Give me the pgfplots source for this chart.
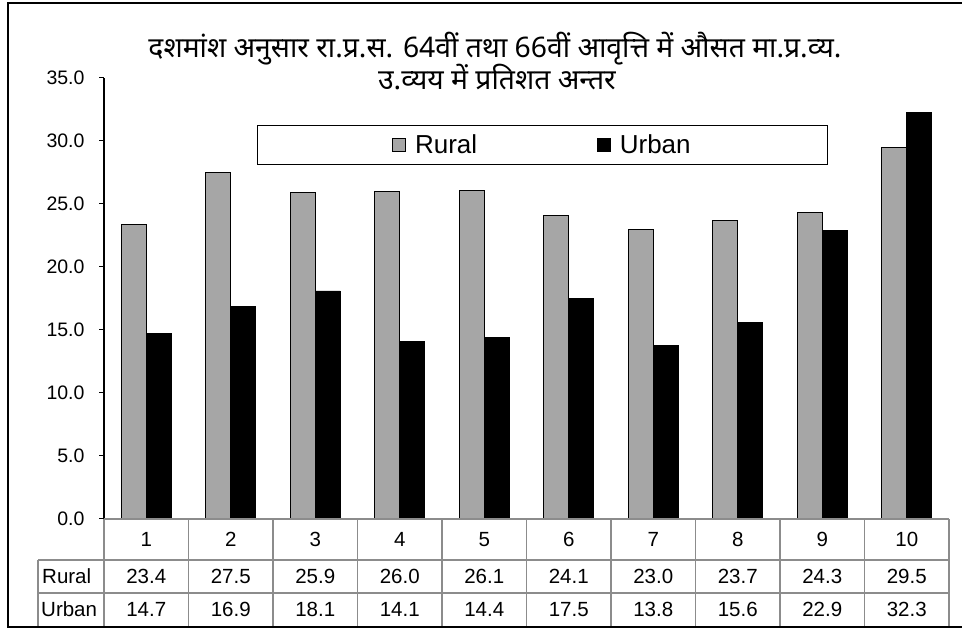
\documentclass[border=0pt]{standalone}
\usepackage{pgfplots}
\pgfplotsset{compat=1.18}
\usepackage{fontspec}
\setmainfont{Liberation Sans}
\newfontfamily\devfont[Script=Devanagari]{Noto Sans}
\definecolor{ruralgray}{HTML}{A6A6A6}
\definecolor{gridgray}{HTML}{8C8C8C}
\begin{document}
\begin{tikzpicture}[x=1bp,y=1bp]
\path[use as bounding box] (0,0) rectangle (962,630);
\begin{axis}[
  at={(104bp,111bp)}, anchor=south west,
  scale only axis, width=845bp, height=441bp,
  xmin=0.5, xmax=10.5, ymin=0, ymax=35,
  ybar, bar width=0.295,
  axis x line=none,
  axis y line*=left,
  y axis line style={line width=1.2bp, -},
  ytick={0,5,10,15,20,25,30,35},
  ytick pos=left,
  tick align=outside,
  major tick length=5bp,
  tick style={line width=1bp, black},
  yticklabel style={font=\fontsize{19.5bp}{22bp}\selectfont, xshift=-11bp, /pgf/number format/.cd, fixed, fixed zerofill, precision=1, assume math mode=true},
  clip=false,
  legend columns=2,
  legend style={at={(0.519,0.848)}, anchor=center, draw=black, line width=1.2bp,
    font=\fontsize{26bp}{29bp}\selectfont, inner xsep=135bp, inner ysep=7bp,
    /tikz/every even column/.append style={column sep=118bp}},
  legend image code/.code={\draw[#1, line width=0.6bp] (0bp,-6.5bp) rectangle (13bp,6.5bp); \path (20bp,0bp);},
]
\addplot[fill=ruralgray, draw=black, line width=0.7bp, bar shift=-0.1475] coordinates {
 (1,23.4) (2,27.5) (3,25.9) (4,26.0) (5,26.1) (6,24.1) (7,23.0) (8,23.7) (9,24.3) (10,29.5)};
\addplot[fill=black, draw=black, line width=0.7bp, bar shift=0.1475] coordinates {
 (1,14.7) (2,16.9) (3,18.1) (4,14.1) (5,14.4) (6,17.5) (7,13.8) (8,15.6) (9,22.9) (10,32.3)};
\legend{Rural,Urban}
\end{axis}
% data table
\begin{scope}[draw=gridgray, line width=1.3bp]
  \draw (104,111) -- (949,111);
  \draw (38,70) -- (949,70);
  \draw (38,37) -- (949,37);
  \draw (38,70) -- (38,3);
  \foreach \k in {0,...,10} { \draw ({104+84.5*\k},111) -- ({104+84.5*\k},3); }
\end{scope}
\begin{scope}[font=\fontsize{20.5bp}{23bp}\selectfont, every node/.style={anchor=base, inner sep=0pt}]
  \foreach \k in {1,...,10} { \node at ({104+84.5*(\k-0.5)},83) {\k}; }
  \node[anchor=base west] at (42,46.5) {Rural};
  \node[anchor=base west] at (41,13) {Urban};
  \foreach \v [count=\k] in {23.4,27.5,25.9,26.0,26.1,24.1,23.0,23.7,24.3,29.5} { \node at ({104+84.5*(\k-0.5)},46.5) {\v}; }
  \foreach \v [count=\k] in {14.7,16.9,18.1,14.1,14.4,17.5,13.8,15.6,22.9,32.3} { \node at ({104+84.5*(\k-0.5)},13) {\v}; }
\end{scope}
% frame
\draw[line width=2.2bp] (975,627) -- (8,627) -- (8,3) -- (975,3);
% title
\node[font=\devfont\fontsize{28.3bp}{33bp}\selectfont, anchor=base, inner sep=0pt] at (495,572)
  {दशमांश अनुसार रा.प्र.स. 64वीं तथा 66वीं आवृत्ति में औसत मा.प्र.व्य.};
\node[font=\devfont\fontsize{28.3bp}{33bp}\selectfont, anchor=base, inner sep=0pt] at (497,540)
  {उ.व्यय में प्रतिशत अन्तर};
\end{tikzpicture}
\end{document}
